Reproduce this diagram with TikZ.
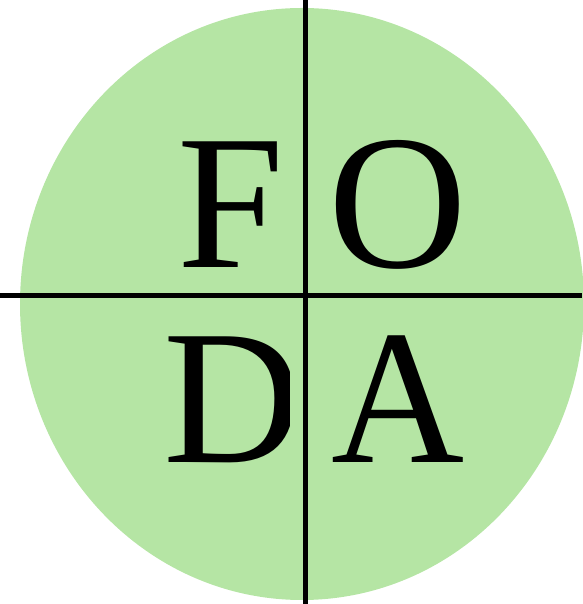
\documentclass[tikz,border=0pt]{standalone}
\usepackage{fontspec}
\setmainfont{Liberation Serif}
\definecolor{foda}{RGB}{181,229,164}
\begin{document}
\begin{tikzpicture}[x=1pt,y=1pt,
  axis/.style={line width=5pt,black},
  letter/.style={inner sep=0pt,anchor=base,font=\fontsize{192}{200}\selectfont}]
\useasboundingbox (0,0) rectangle (582,604);
\fill[foda] (302,300) ellipse [x radius=282, y radius=296];
\coordinate (top) at (305,604);
\coordinate (bot) at (305,0);
\coordinate (lft) at (0,308);
\coordinate (rgt) at (582,308);
\node[letter] (F) at (231,336) {F};
\node[letter] (O) at (398,336) {O};
\node[letter,xscale=0.96] (A) at (398.5,141) {A};
\begin{scope}
  \clip (0,0) rectangle (289,604);
  \node[letter] (D) at (232.5,141) {D};
\end{scope}
\draw[axis] (top) -- (bot);
\draw[axis] (lft) -- (rgt);
\end{tikzpicture}
\end{document}
